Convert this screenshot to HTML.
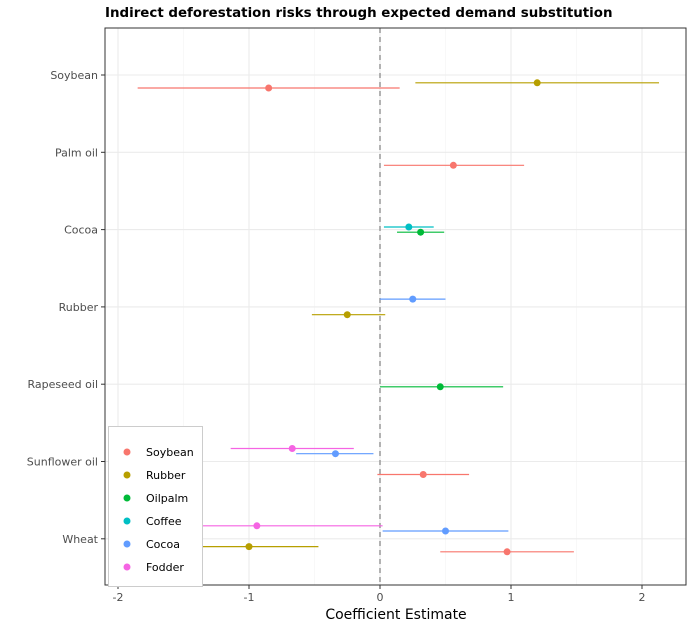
<!DOCTYPE html>
<html><head><meta charset="utf-8"><style>
body{margin:0;background:#fff;font-family:"DejaVu Sans","Liberation Sans",sans-serif;}
</style></head><body>
<svg id="chart" width="694" height="629" xmlns="http://www.w3.org/2000/svg">
<rect width="694" height="629" fill="#fff"/>
<text x="105" y="17" font-size="13.4" font-weight="bold" fill="#000">Indirect deforestation risks through expected demand substitution</text>
<g id="grid"></g>
<g id="marks"></g>
<rect x="105" y="28" width="581" height="557" fill="none" stroke="#333" stroke-width="1"/>
<g id="axes"></g>
<text x="396" y="619" font-size="14" text-anchor="middle" fill="#000">Coefficient Estimate</text>
<g id="legend"></g>
</svg>
<script>
const categories=["Soybean","Palm oil","Cocoa","Rubber","Rapeseed oil","Sunflower oil","Wheat"];
const xTicks=[-2,-1,0,1,2];
const seriesNames=["Soybean","Rubber","Oilpalm","Coffee","Cocoa","Fodder"];
const seriesColors=["#F8766D","#B79F00","#00BA38","#00BFC4","#619CFF","#F564E3"];
const seriesOffsets=[13,7.8,2.6,-2.6,-7.8,-13];
const estCat=["Soybean","Soybean","Palm oil","Cocoa","Cocoa","Rubber","Rubber","Rapeseed oil","Sunflower oil","Sunflower oil","Sunflower oil","Wheat","Wheat","Wheat","Wheat"];
const estSeries=["Rubber","Soybean","Soybean","Coffee","Oilpalm","Cocoa","Rubber","Oilpalm","Fodder","Cocoa","Soybean","Fodder","Cocoa","Rubber","Soybean"];
const estValue=[1.2,-0.85,0.56,0.22,0.31,0.25,-0.25,0.46,-0.67,-0.34,0.33,-0.94,0.5,-1.0,0.97];
const estLow=[0.27,-1.85,0.03,0.03,0.13,0,-0.52,0,-1.14,-0.64,-0.02,-1.6,0.02,-1.6,0.46];
const estHigh=[2.13,0.15,1.1,0.41,0.49,0.5,0.04,0.94,-0.2,-0.05,0.68,0.02,0.98,-0.47,1.48];

const NS="http://www.w3.org/2000/svg";
const X0=105,X1=686,Y0=28,Y1=585;
const xs=v=>380+v*131;
const ys=c=>75+categories.indexOf(c)*77.3;
function mk(tag,attrs,parent){const e=document.createElementNS(NS,tag);for(const k in attrs)e.setAttribute(k,attrs[k]);parent.appendChild(e);return e;}
const grid=document.getElementById('grid'),marks=document.getElementById('marks'),axes=document.getElementById('axes'),legend=document.getElementById('legend');
mk('rect',{x:X0,y:Y0,width:X1-X0,height:Y1-Y0,fill:'#fff'},grid);
xTicks.forEach((t,i)=>{
  if(i<xTicks.length-1){mk('line',{x1:xs(t+0.5),x2:xs(t+0.5),y1:Y0,y2:Y1,stroke:'#f3f3f3','stroke-width':0.6},grid);}
  const g=mk('line',{x1:xs(t),x2:xs(t),y1:Y0,y2:Y1,stroke:'#ebebeb','stroke-width':1.1},grid);
  
  
  mk('line',{x1:xs(t),x2:xs(t),y1:Y1,y2:Y1+4,stroke:'#333'},axes);
  const tx=mk('text',{x:xs(t),y:Y1+16,'font-size':11,'text-anchor':'middle',fill:'#4d4d4d'},axes);
  tx.textContent=t;
  
  
});
categories.forEach(c=>{
  const g=mk('line',{x1:X0,x2:X1,y1:ys(c),y2:ys(c),stroke:'#ebebeb','stroke-width':1.1},grid);
  
  
  mk('line',{x1:X0-4,x2:X0,y1:ys(c),y2:ys(c),stroke:'#333'},axes);
  const tx=mk('text',{x:X0-7,y:ys(c)+4,'font-size':11,'text-anchor':'end',fill:'#4d4d4d'},axes);
  tx.textContent=c;
  
  
});
const zl=mk('line',{x1:xs(0),x2:xs(0),y1:Y0,y2:Y1,stroke:'#999','stroke-width':1.5,'stroke-dasharray':'5,4'},marks);


estValue.forEach((v,i)=>{
  const si=seriesNames.indexOf(estSeries[i]);
  const y=ys(estCat[i])+seriesOffsets[si];
  const col=seriesColors[si];
  const l=mk('line',{x1:xs(estLow[i]),x2:xs(estHigh[i]),y1:y,y2:y,stroke:col,'stroke-width':1.2},marks);
  
  
  const p=mk('circle',{cx:xs(v),cy:y,r:3.5,fill:col},marks);
  
  
});
const lb=mk('rect',{x:108.5,y:426.5,width:94,height:160,fill:'#fff',stroke:'#ccc'},legend);


seriesNames.forEach((n,i)=>{
  const y=452+i*23;
  const c=mk('circle',{cx:127,cy:y,r:3.5,fill:seriesColors[i]},legend);
  
  
  const t=mk('text',{x:146,y:y+4,'font-size':11,fill:'#000'},legend);
  t.textContent=n;
  
  
});
</script>
</body></html>
